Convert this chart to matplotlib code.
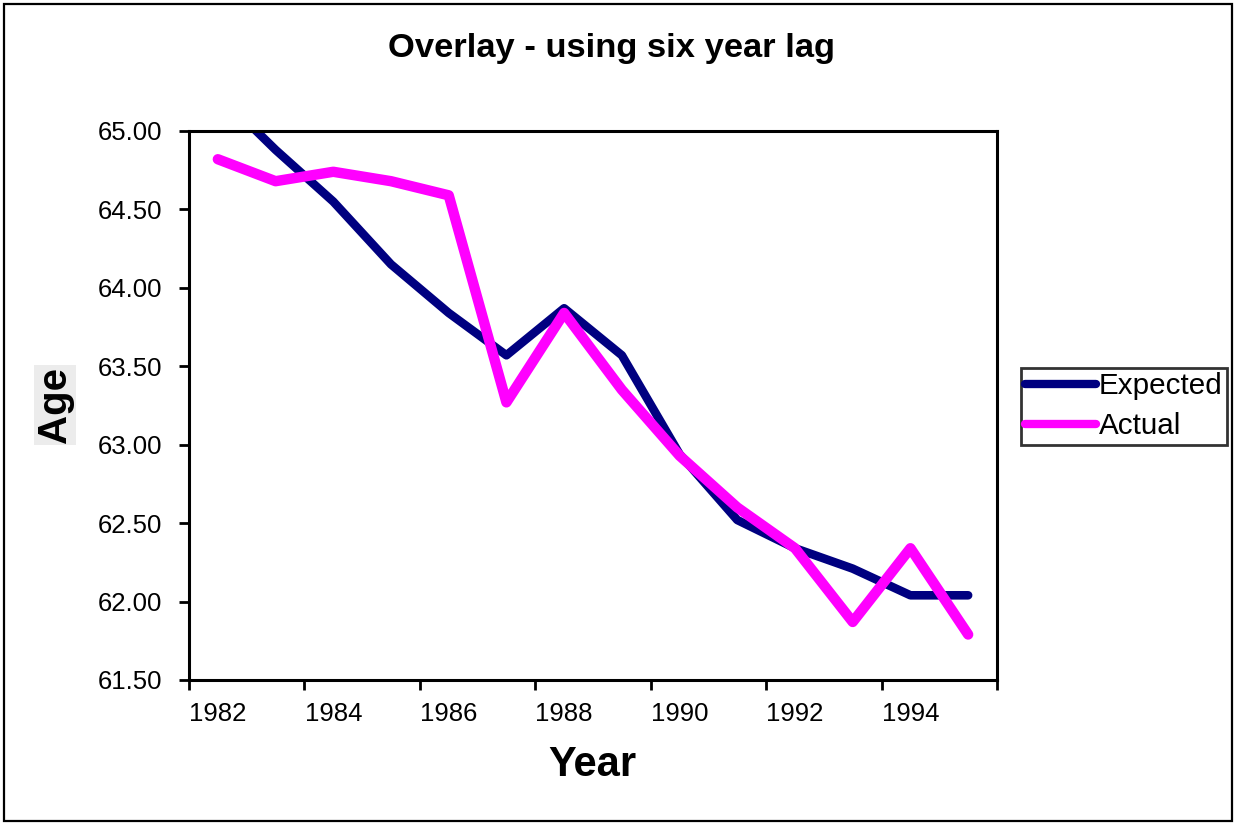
import matplotlib
matplotlib.use("Agg")
import matplotlib.pyplot as plt
from matplotlib.patches import Rectangle
from matplotlib.ticker import FixedLocator, FormatStrFormatter

plt.rcParams['font.family'] = ['Liberation Sans', 'DejaVu Sans']

years = [1982, 1983, 1984, 1985, 1986, 1987, 1988,
         1989, 1990, 1991, 1992, 1993, 1994, 1995]
expected = [65.24, 64.88, 64.55, 64.15, 63.84, 63.57, 63.87,
            63.57, 62.94, 62.52, 62.34, 62.21, 62.04, 62.04]
actual = [64.82, 64.68, 64.74, 64.68, 64.59, 63.27, 63.84,
          63.35, 62.93, 62.60, 62.34, 61.87, 62.34, 61.79]
year_labels = ["1982", "1984", "1986", "1988", "1990", "1992", "1994"]
y_ticks = [61.5, 62.0, 62.5, 63.0, 63.5, 64.0, 64.5, 65.0]

W, H = 1236, 825
fig = plt.figure(figsize=(W / 100, H / 100), dpi=100)
fig.patch.set_facecolor('white')

# outer chart frame
fig.patches.append(Rectangle((4 / W, 4 / H), (W - 8) / W, (H - 8) / H,
                             transform=fig.transFigure, fill=False,
                             edgecolor='black', linewidth=1.6))

left, right, top, bottom = 189, 997, 131, 680
ax = fig.add_axes([left / W, 1 - bottom / H, (right - left) / W, (bottom - top) / H])

x = list(range(len(years)))
ax.plot(x, expected, color='#000080', linewidth=6.2, solid_joinstyle='round',
        solid_capstyle='round', label='Expected')
ax.plot(x, actual, color='#FF00FF', linewidth=7.5, solid_joinstyle='round',
        solid_capstyle='round', label='Actual')

ax.set_xlim(-0.5, len(years) - 0.5)
ax.set_ylim(61.5, 65.0)

# category axis: ticks on boundaries every two years, labels centred on categories
ax.xaxis.set_major_locator(FixedLocator([i - 0.5 for i in range(0, len(years) + 1, 2)]))
ax.xaxis.set_major_formatter(plt.NullFormatter())
label_pos = [years.index(int(s)) for s in year_labels]
ax.xaxis.set_minor_locator(FixedLocator(label_pos))
ax.set_xticklabels(year_labels, minor=True)
ax.tick_params(axis='x', which='minor', length=0, pad=16, labelsize=18.5)
ax.tick_params(axis='x', which='major', direction='out', length=7, width=2)

ax.yaxis.set_major_locator(FixedLocator(y_ticks))
ax.yaxis.set_major_formatter(FormatStrFormatter('%.2f'))
ax.tick_params(axis='y', direction='out', length=7, width=2, pad=12, labelsize=18.5)

for s in ax.spines.values():
    s.set_linewidth(2.2)
    s.set_color('black')

fig.text(0.5 * (left + right) / W + 18 / W, 1 - 48 / H, 'Overlay - using six year lag',
         ha='center', va='center', fontsize=24.8, fontweight='bold')
fig.text(592 / W, 1 - 765 / H, 'Year', ha='center', va='center',
         fontsize=30, fontweight='bold')
fig.text(55 / W, 1 - 405 / H, 'Age', ha='center', va='center', rotation=90,
         fontsize=29, fontweight='bold',
         bbox=dict(boxstyle='square,pad=0.05', facecolor='#ececec', edgecolor='none'))

leg = fig.legend(loc='upper left', bbox_to_anchor=(1021 / W, 1 - 368 / H),
                 frameon=True, fancybox=False, edgecolor='black', fontsize=21.3,
                 handlelength=2.4, handletextpad=0.08, borderpad=0.15,
                 labelspacing=0.4, borderaxespad=0)
leg.get_frame().set_linewidth(2)
for h in leg.get_lines():
    h.set_linewidth(6.0)

fig.savefig('out.png', dpi=100, facecolor='white')
